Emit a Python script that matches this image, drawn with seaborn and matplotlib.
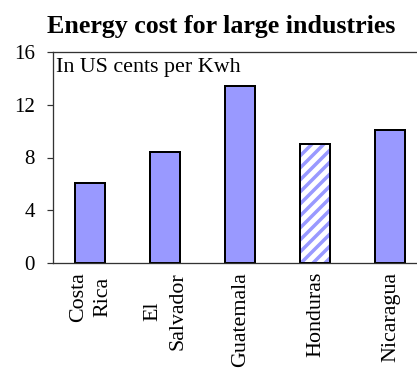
import matplotlib
matplotlib.use("Agg")
import matplotlib.pyplot as plt
import seaborn as sns
import pandas as pd
from matplotlib.patches import Rectangle

countries = ["Costa\nRica", "El\nSalvador", "Guatemala", "Honduras", "Nicaragua"]
cost = [6.1, 8.4, 13.4, 9.0, 10.1]
yticks = [0, 4, 8, 12, 16]
title = "Energy cost for large industries"
note = "In US cents per Kwh"

sns.set_style("white")
plt.rcParams["font.family"] = ["Liberation Serif", "DejaVu Serif"]
plt.rcParams["hatch.linewidth"] = 3.5
plt.rcParams["text.color"] = "black"
plt.rcParams["xtick.color"] = "black"
plt.rcParams["ytick.color"] = "black"

DPI = 72
fig = plt.figure(figsize=(417 / DPI, 368 / DPI), dpi=DPI)
ax = fig.add_axes([53 / 417, 1 - 263 / 368, 375 / 417, 211 / 368])

df = pd.DataFrame({"country": countries, "cost": cost})
sns.barplot(data=df, x="country", y="cost", color="#9999FF", saturation=1,
            width=0.4, edgecolor="black", linewidth=2, ax=ax)

# Honduras bar: hatched
p = ax.patches[3]
p.set_facecolor("white")
p.set_edgecolor("#9999FF")
p.set_linewidth(0)
p.set_hatch("//")
ax.add_patch(Rectangle((p.get_x(), p.get_y()), p.get_width(), p.get_height(),
                       fill=False, edgecolor="black", linewidth=2, zorder=p.get_zorder() + 0.1))

ax.set_ylim(0, 16)
ax.set_xlim(-0.5, len(countries) - 0.5)
ax.set_yticks(yticks)
ax.set_yticklabels([str(v) for v in yticks], fontsize=21)
ax.set_xlabel("")
ax.set_ylabel("")

ax.set_xticks(range(len(countries)))
ax.set_xticklabels(countries, rotation=90, fontsize=22, va="top", ha="center",
                   multialignment="center", linespacing=1.4)
ax.tick_params(axis="x", which="major", length=0, pad=9)
ax.set_xticks([i - 0.5 for i in range(len(countries) + 1)], minor=True)
ax.tick_params(axis="x", which="minor", length=7, width=1.2, color="#333333", direction="out")
ax.tick_params(axis="y", length=6, width=1.2, color="#333333", direction="out", pad=12, left=True)

for s in ["left", "bottom", "top"]:
    ax.spines[s].set_visible(True)
    ax.spines[s].set_color("#333333")
    ax.spines[s].set_linewidth(1.3)
ax.spines["right"].set_visible(False)

fig.text(221 / 417, 1 - 33 / 368, title, ha="center", va="baseline",
         fontsize=26, fontweight="bold")
fig.text(56 / 417, 1 - 72 / 368, note, ha="left", va="baseline", fontsize=22)

fig.savefig("out.png", dpi=DPI)
